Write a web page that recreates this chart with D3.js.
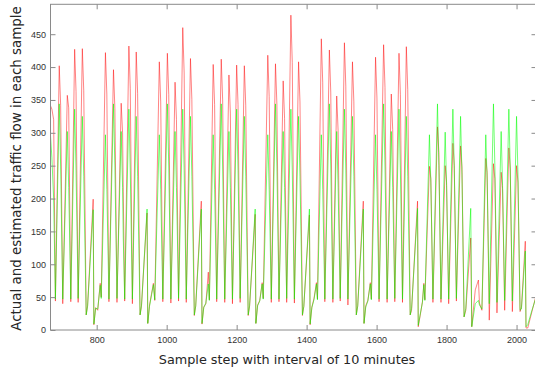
<!DOCTYPE html>
<html>
<head>
<meta charset="utf-8">
<script src="https://cdn.jsdelivr.net/npm/d3@7/dist/d3.min.js"></script>
<style>
  html, body { margin: 0; padding: 0; background: #ffffff; }
  svg { display: block; }
  .tick text { font-family: "Liberation Sans", Arial, sans-serif; font-size: 9px; fill: #333333; }
  .axis-title { font-family: "DejaVu Sans", Verdana, sans-serif; fill: #262626; }
</style>
</head>
<body>
<svg id="chart" width="535" height="372"></svg>
<script>
// Sample steps (10-minute interval) at which the traffic flow was read
const steps = [
  668, 672, 677, 682, 693, 697, 703, 716, 720, 726, 737, 741, 747, 759, 763, 770, 774, 790, 792, 797, 803, 810, 813,
  825, 829, 835, 848, 852, 858, 870, 874, 876, 880, 892, 896, 902, 913, 917, 924, 928, 944, 946, 951, 957, 962, 966,
  979, 983, 989, 1002, 1006, 1012, 1024, 1028, 1034, 1046, 1050, 1056, 1068, 1072, 1079, 1083, 1099, 1101, 1106, 1112, 1119, 1122,
  1133, 1137, 1143, 1156, 1160, 1166, 1178, 1182, 1188, 1200, 1204, 1210, 1222, 1226, 1233, 1237, 1253, 1255, 1260, 1266, 1273, 1276,
  1289, 1293, 1299, 1311, 1315, 1321, 1333, 1337, 1343, 1355, 1359, 1365, 1377, 1381, 1388, 1392, 1408, 1410, 1415, 1421, 1428, 1431,
  1442, 1446, 1452, 1465, 1469, 1475, 1486, 1490, 1496, 1508, 1512, 1518, 1531, 1535, 1542, 1546, 1562, 1564, 1569, 1575, 1582, 1585,
  1597, 1601, 1607, 1620, 1624, 1630, 1642, 1646, 1652, 1664, 1668, 1674, 1685, 1689, 1696, 1700, 1717, 1719, 1724, 1731, 1735, 1738,
  1751, 1755, 1761, 1774, 1778, 1784, 1796, 1800, 1806, 1818, 1822, 1828, 1840, 1844, 1850, 1855, 1869, 1872, 1882, 1891, 1894, 1901,
  1912, 1916, 1922, 1934, 1938, 1944, 1956, 1960, 1966, 1978, 1982, 1988, 2000, 2004, 2010, 2014, 2025, 2027, 2032, 2044, 2057
];

// Measured (actual) traffic flow
const actual = [
  341, 336, 320, 44, 402, 342, 40, 357, 338, 43, 427, 363, 42, 428, 364, 23, 37, 199, 8, 34, 30, 71, 50,
  422, 359, 43, 396, 337, 42, 345, 300, 210, 44, 432, 367, 40, 423, 360, 23, 36, 178, 10, 38, 56, 71, 45,
  408, 347, 43, 421, 358, 41, 377, 320, 44, 460, 391, 42, 413, 351, 22, 37, 196, 9, 35, 40, 88, 46,
  404, 343, 43, 412, 350, 42, 388, 330, 40, 403, 343, 42, 402, 342, 22, 36, 176, 10, 38, 45, 72, 48,
  418, 355, 42, 405, 344, 43, 379, 322, 42, 479, 407, 41, 408, 347, 22, 36, 175, 8, 35, 48, 72, 47,
  443, 377, 43, 426, 362, 42, 356, 303, 44, 437, 371, 38, 408, 347, 23, 37, 196, 10, 37, 45, 72, 47,
  415, 353, 43, 434, 369, 42, 359, 305, 43, 421, 358, 42, 431, 366, 23, 30, 196, 5, 20, 43, 71, 46,
  249, 230, 42, 309, 270, 42, 250, 225, 40, 284, 250, 44, 280, 248, 20, 30, 140, 5, 61, 76, 41, 30,
  261, 240, 15, 253, 230, 26, 240, 215, 30, 277, 245, 28, 250, 225, 28, 35, 135, 3, 3, 28, 55
];

// Estimated traffic flow
const estimated = [
  296, 262, 200, 47, 344, 248, 47, 302, 217, 47, 336, 242, 48, 325, 234, 23, 36, 183, 9, 33, 32, 68, 48,
  297, 214, 47, 344, 248, 48, 302, 217, 140, 47, 336, 242, 47, 325, 234, 23, 37, 184, 10, 36, 54, 69, 46,
  297, 214, 47, 344, 248, 47, 302, 217, 48, 336, 242, 47, 325, 234, 23, 36, 184, 10, 34, 41, 70, 45,
  297, 214, 47, 344, 248, 47, 302, 217, 47, 336, 242, 48, 325, 234, 23, 37, 184, 10, 37, 44, 70, 47,
  297, 214, 47, 344, 248, 47, 302, 217, 48, 336, 242, 47, 325, 234, 23, 36, 184, 9, 34, 46, 70, 46,
  297, 214, 47, 344, 248, 47, 302, 217, 48, 336, 242, 47, 325, 234, 23, 36, 184, 10, 35, 44, 70, 46,
  297, 214, 47, 344, 248, 47, 302, 217, 48, 336, 242, 47, 325, 234, 23, 33, 185, 7, 22, 42, 69, 45,
  297, 225, 47, 344, 250, 47, 301, 220, 47, 336, 245, 48, 325, 236, 20, 33, 185, 5, 40, 45, 38, 32,
  297, 225, 40, 344, 250, 42, 302, 220, 45, 336, 245, 44, 325, 236, 30, 32, 120, 5, 8, 30, 52
];

const xTicks = [800, 1000, 1200, 1400, 1600, 1800, 2000];
const yTicks = [0, 50, 100, 150, 200, 250, 300, 350, 400, 450];

const xLabel = "Sample step with interval of 10 minutes";
const yLabel = "Actual and estimated traffic flow in each sample";

const svg = d3.select("#chart");
const plotLeft = 50.5, plotRight = 536.5, plotTop = 4.3, plotBottom = 330;

const x = d3.scaleLinear().domain([668, 2057]).range([plotLeft, plotRight]);
const y = d3.scaleLinear().domain([0, 495.5]).range([plotBottom, plotTop]);

const rows = steps.map((s, i) => ({ s, a: actual[i], e: estimated[i] }));

svg.append("clipPath").attr("id", "plot-clip")
  .append("rect").attr("x", plotLeft).attr("y", plotTop)
  .attr("width", plotRight - plotLeft).attr("height", plotBottom - plotTop);

const plot = svg.append("g").attr("clip-path", "url(#plot-clip)");

const lineActual = d3.line().x(d => x(d.s)).y(d => y(d.a));
const lineEstimated = d3.line().x(d => x(d.s)).y(d => y(d.e));

// actual flow in red, estimate drawn over it in green
plot.append("path").datum(rows)
  .attr("d", lineActual)
  .attr("fill", "none")
  .attr("stroke", "#ff0000")
  .attr("stroke-opacity", 0.75)
  .attr("stroke-width", 0.65)
  .attr("stroke-linejoin", "round");

plot.append("path").datum(rows)
  .attr("d", lineEstimated)
  .attr("fill", "none")
  .attr("stroke", "#00ff00")
  .attr("stroke-opacity", 0.85)
  .attr("stroke-width", 0.65)
  .attr("stroke-linejoin", "round");

// Box-style axes with inward ticks on all four sides
const axisColor = "#8a8a8a";
function styleAxis(g) {
  g.select(".domain").remove();
  g.selectAll(".tick line").attr("stroke", axisColor);
}

svg.append("g").attr("transform", `translate(0,${plotBottom})`)
  .call(d3.axisBottom(x).tickValues(xTicks).tickFormat(d3.format("d"))
    .tickSizeInner(-5).tickSizeOuter(0).tickPadding(6.5))
  .call(styleAxis);

svg.append("g").attr("transform", `translate(0,${plotTop})`)
  .call(d3.axisTop(x).tickValues(xTicks).tickFormat("")
    .tickSizeInner(-5).tickSizeOuter(0))
  .call(styleAxis);

svg.append("g").attr("transform", `translate(${plotLeft},0)`)
  .call(d3.axisLeft(y).tickValues(yTicks).tickFormat(d3.format("d"))
    .tickSizeInner(-5).tickSizeOuter(0).tickPadding(4.5))
  .call(styleAxis);

svg.append("g").attr("transform", `translate(${plotRight},0)`)
  .call(d3.axisRight(y).tickValues(yTicks).tickFormat("")
    .tickSizeInner(-5).tickSizeOuter(0))
  .call(styleAxis);

svg.append("rect")
  .attr("x", plotLeft).attr("y", plotTop)
  .attr("width", plotRight - plotLeft).attr("height", plotBottom - plotTop)
  .attr("fill", "none").attr("stroke", axisColor).attr("stroke-width", 1);

svg.append("text").attr("class", "axis-title")
  .attr("x", 287).attr("y", 364.3)
  .attr("text-anchor", "middle")
  .style("font-size", "12.8px")
  .text(xLabel);

svg.append("text").attr("class", "axis-title")
  .attr("transform", "translate(20.5,168.5) rotate(-90)")
  .attr("text-anchor", "middle")
  .style("font-size", "13.4px")
  .text(yLabel);
</script>
</body>
</html>
